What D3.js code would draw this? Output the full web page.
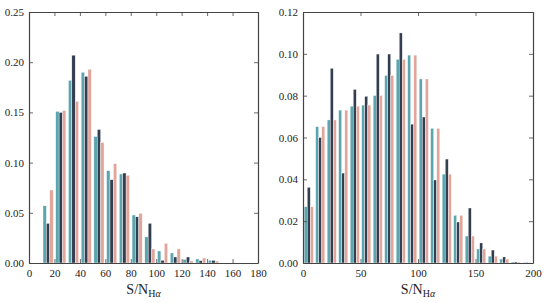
<!DOCTYPE html>
<html>
<head>
<meta charset="utf-8">
<script src="https://cdn.jsdelivr.net/npm/d3@7"></script>
<style>
  body { margin: 0; background: #fff; }
  svg text { font-family: "Liberation Serif", "DejaVu Serif", serif; fill: #222; }
</style>
</head>
<body>
<div id="chart"></div>
<script>
// left panel: bins of 10 starting at 10
const leftBins = [10, 20, 30, 40, 50, 60, 70, 80, 90, 100, 110, 120, 130, 140];
const leftTeal = [0.057, 0.151, 0.182, 0.190, 0.126, 0.092, 0.0886, 0.0478, 0.026, 0.012, 0.010, 0.0037, 0.004, 0.0027];
const leftDark = [0.0395, 0.150, 0.207, 0.186, 0.133, 0.083, 0.0896, 0.046, 0.0395, 0.0027, 0.006, 0.006, 0.0023, 0.0027];
const leftPink = [0.0727, 0.152, 0.161, 0.193, 0.120, 0.099, 0.0873, 0.0495, 0.014, 0.0196, 0.014, 0.002, 0.005, 0.002];
const leftXTicks = [0, 20, 40, 60, 80, 100, 120, 140, 160, 180];
const leftYTicks = [0, 0.05, 0.10, 0.15, 0.20, 0.25];

// right panel: bins of 10 starting at 0
const rightBins = [0, 10, 20, 30, 40, 50, 60, 70, 80, 90, 100, 110, 120, 130, 140, 150, 160, 170, 180, 190];
const rightTeal = [0.0269, 0.0652, 0.0684, 0.0731, 0.0750, 0.0755, 0.0801, 0.0897, 0.0974, 0.0994, 0.0880, 0.0644, 0.0425, 0.0228, 0.0129, 0.0067, 0.0033, 0.0019, 0.0005, 0.0003];
const rightDark = [0.0362, 0.0600, 0.0931, 0.0430, 0.0830, 0.0797, 0.0999, 0.0999, 0.1100, 0.0664, 0.0698, 0.0397, 0.0497, 0.0196, 0.0263, 0.0096, 0.0062, 0.0029, 0.0005, 0.0003];
const rightPink = [0.0269, 0.0652, 0.0684, 0.0731, 0.0750, 0.0755, 0.0801, 0.0897, 0.0974, 0.0994, 0.0880, 0.0644, 0.0425, 0.0228, 0.0129, 0.0067, 0.0033, 0.0019, 0.0005, 0.0003];
const rightXTicks = [0, 50, 100, 150, 200];
const rightYTicks = [0, 0.02, 0.04, 0.06, 0.08, 0.10, 0.12];

const colors = ["#5aa5ae", "#343e51", "#e0a59b"];

const svg = d3.select("#chart").append("svg")
    .attr("width", 548)
    .attr("height", 303);

function panel(opts) {
    let x = d3.scaleLinear().domain(opts.xDomain).range([opts.left, opts.right]);
    let y = d3.scaleLinear().domain(opts.yDomain).range([263, 12]);
    let g = svg.append("g");
    let series = [opts.teal, opts.dark, opts.pink];
    let bw = 10;
    let dw = bw * 0.8 / 3;

    series.forEach(function(vals, i) {
        g.selectAll(null)
            .data(opts.bins.map(function(b, j){ return {b: b, v: vals[j]}; }))
            .enter().append("rect")
            .attr("x", function(d){ return x(d.b + 0.1 * bw + i * dw); })
            .attr("width", function(d){ return x(d.b + dw) - x(d.b); })
            .attr("y", function(d){ return y(d.v); })
            .attr("height", function(d){ return y(0) - y(d.v); })
            .attr("fill", colors[i])
            .attr("stroke", "#fff")
            .attr("stroke-width", 0.4);
    });

    let fmt = opts.yFmt;
    let bottom = g.append("g").attr("transform", "translate(0,263)")
        .call(d3.axisBottom(x).tickValues(opts.xTicks).tickSizeInner(-4).tickSizeOuter(0).tickPadding(6));
    let top = g.append("g").attr("transform", "translate(0,12)")
        .call(d3.axisTop(x).tickValues(opts.xTicks).tickSizeInner(-4).tickSizeOuter(0).tickFormat(""));
    let leftAx = g.append("g").attr("transform", "translate(" + opts.left + ",0)")
        .call(d3.axisLeft(y).tickValues(opts.yTicks).tickSizeInner(-4).tickSizeOuter(0).tickPadding(5).tickFormat(fmt));
    let rightAx = g.append("g").attr("transform", "translate(" + opts.right + ",0)")
        .call(d3.axisRight(y).tickValues(opts.yTicks).tickSizeInner(-4).tickSizeOuter(0).tickFormat(""));

    [bottom, top, leftAx, rightAx].forEach(function(a){
        a.select(".domain").attr("stroke", "#444").attr("stroke-width", 1.2);
        a.selectAll(".tick line").attr("stroke", "#444").attr("stroke-width", 0.8);
        a.selectAll("text").style("font-size", "11px").attr("fill", "#222")
            .style("font-family", "'Liberation Serif', 'DejaVu Serif', serif");
    });

    let lbl = g.append("text")
        .attr("x", (opts.left + opts.right) / 2)
        .attr("y", 294)
        .attr("text-anchor", "middle")
        .style("font-size", "14px");
    lbl.append("tspan").text("S/N");
    lbl.append("tspan").attr("dy", 3).style("font-size", "10px").text("H");
    lbl.append("tspan").style("font-size", "10px").style("font-style", "italic").text("α");
}

panel({
    left: 29, right: 258,
    xDomain: [0, 180], yDomain: [0, 0.25],
    bins: leftBins, teal: leftTeal, dark: leftDark, pink: leftPink,
    xTicks: leftXTicks, yTicks: leftYTicks, yFmt: d3.format(".2f")
});

panel({
    left: 303, right: 533,
    xDomain: [0, 200], yDomain: [0, 0.12],
    bins: rightBins, teal: rightTeal, dark: rightDark, pink: rightPink,
    xTicks: rightXTicks, yTicks: rightYTicks, yFmt: d3.format(".2f")
});
</script>
</body>
</html>
